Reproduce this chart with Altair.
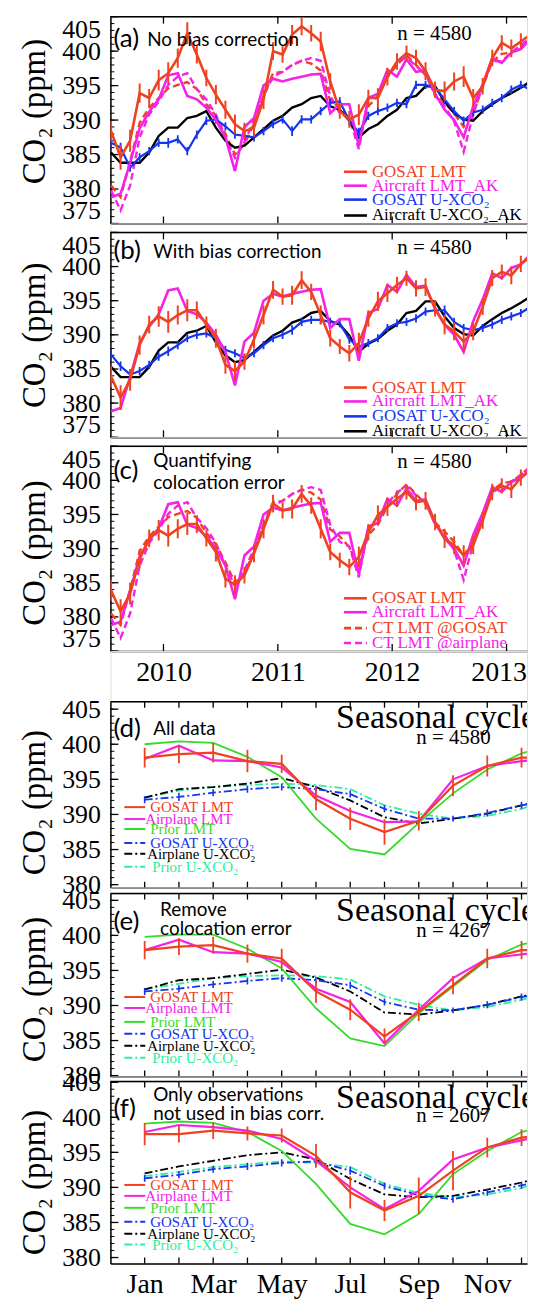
import altair as alt
import pandas as pd

# ---------------- monthly time series, Jul 2009 - Apr 2013 ----------------
month_starts = pd.date_range("2009-07-01", periods=46, freq="MS")
t_years = list(month_starts.year + (month_starts.month - 0.5) / 12.0)

gosat_lmt_nobc = [388.4, 384.6, 387.0, 393.9, 393.2, 395.8, 396.8, 399.0, 402.6, 399.5,
                  396.1, 393.7, 391.5, 389.4, 388.4, 388.9, 393.0, 400.0, 399.5, 402.4,
                  403.6, 402.6, 401.4, 395.6, 391.3, 390.1, 390.8, 393.2, 393.2, 396.3,
                  398.5, 399.7, 399.0, 397.1, 394.4, 394.2, 395.6, 396.3, 393.2, 394.9,
                  399.0, 401.2, 400.4, 401.4, 402.4, 403.0]
gosat_lmt_bc = [383.9, 380.8, 383.4, 388.5, 391.5, 392.7, 391.9, 392.9, 393.6, 393.6,
                391.5, 389.5, 385.6, 384.7, 386.1, 389.3, 392.9, 396.6, 395.6, 395.8,
                398.0, 396.3, 392.9, 389.5, 388.3, 387.3, 388.8, 392.4, 394.9, 396.1,
                397.3, 398.3, 396.8, 397.0, 393.9, 391.5, 390.5, 389.0, 390.5, 394.1,
                398.3, 399.2, 398.7, 400.4, 401.4, 402.0]
gosat_lmt_err = [1.5, 1.8, 1.6, 1.4, 1.3, 1.5, 1.6, 1.4, 1.6, 1.3, 1.2, 1.4, 1.3, 1.4, 1.2,
                 1.3, 1.4, 1.3, 1.2, 1.4, 1.3, 1.2, 1.4, 1.2, 1.1, 1.2, 1.5, 1.2, 1.4, 1.3,
                 1.2, 1.1, 1.2, 1.3, 1.2, 1.4, 1.3, 1.5, 1.3, 1.2, 1.2, 1.1, 1.3, 1.2, 1.2, 1.2]
aircraft_lmt_ak = [378.8, 379.3, 383.8, 388.8, 391.2, 393.0, 396.5, 396.8, 393.5, 393.0,
                   391.8, 390.0, 387.5, 382.6, 389.0, 390.3, 395.0, 396.0, 395.6, 396.0,
                   396.3, 396.6, 396.7, 391.0, 392.3, 392.3, 386.2, 393.2, 393.8, 397.3,
                   396.3, 398.8, 397.0, 397.2, 393.8, 391.5, 390.0, 387.5, 392.0, 395.2,
                   399.0, 398.3, 399.8, 400.3, 401.8, 403.0]
gosat_uxco2_nobc = [386.7, 386.0, 383.1, 384.6, 385.5, 386.7, 386.7, 387.2, 385.5, 387.9,
                    389.9, 390.1, 389.1, 387.9, 387.7, 387.5, 388.4, 389.4, 390.1, 388.4,
                    390.1, 390.1, 391.3, 392.5, 392.7, 389.9, 388.2, 390.6, 391.3, 391.8,
                    392.5, 392.3, 395.1, 395.1, 394.7, 393.0, 391.3, 389.9, 391.1, 391.5,
                    392.5, 393.2, 394.4, 395.1, 394.4, 395.0]
gosat_uxco2_bc = [387.1, 385.4, 384.2, 384.7, 385.6, 386.8, 387.6, 388.5, 389.5, 390.0,
                  390.2, 389.5, 387.8, 387.3, 386.6, 387.3, 388.5, 389.5, 390.0, 390.7,
                  391.9, 392.2, 392.2, 391.9, 391.7, 389.3, 388.3, 388.8, 389.5, 391.0,
                  391.7, 391.9, 392.4, 393.4, 393.6, 393.6, 391.9, 391.0, 390.7, 391.0,
                  391.5, 392.2, 392.7, 393.2, 394.1, 394.8]
gosat_uxco2_err = [0.7, 0.7, 0.6, 0.6, 0.6, 0.6, 0.7, 0.6, 0.6, 0.6, 0.6, 0.6, 0.6, 0.6, 0.6,
                   0.6, 0.6, 0.6, 0.6, 0.7, 0.6, 0.6, 0.6, 0.6, 0.6, 0.6, 0.7, 0.6, 0.6, 0.6,
                   0.6, 0.6, 0.6, 0.6, 0.6, 0.7, 0.6, 0.6, 0.6, 0.6, 0.6, 0.6, 0.6, 0.6, 0.6, 0.6]
aircraft_uxco2_ak = [385.3, 383.8, 383.8, 383.8, 385.3, 387.7, 388.9, 388.9, 390.3, 390.6,
                     391.3, 388.9, 387.0, 386.0, 386.3, 387.5, 388.7, 389.9, 390.6, 391.8,
                     392.3, 393.2, 393.5, 392.0, 391.5, 389.9, 387.5, 388.7, 389.4, 390.6,
                     391.5, 393.2, 393.5, 394.9, 394.9, 392.7, 391.0, 390.1, 389.9, 391.3,
                     392.3, 393.2, 393.9, 394.7, 395.6, 396.3]
ct_lmt_gosat = [380.5, 378.8, 384.0, 389.6, 391.8, 393.2, 394.6, 395.1, 395.5, 394.5,
                392.3, 390.6, 388.0, 385.0, 386.5, 389.5, 393.5, 396.8, 397.0, 398.0,
                398.6, 398.2, 397.2, 392.8, 391.8, 390.2, 387.2, 392.0, 393.5, 396.2,
                398.0, 399.4, 398.0, 396.5, 393.8, 392.5, 391.0, 389.0, 391.0, 394.8,
                398.5, 399.6, 399.8, 400.8, 402.0, 403.0]
ct_lmt_airplane = [379.8, 376.9, 380.5, 387.5, 390.8, 392.7, 395.1, 396.3, 396.8, 394.5,
                   393.0, 390.8, 387.5, 384.5, 386.8, 390.0, 393.5, 396.3, 397.0, 398.0,
                   398.6, 399.0, 398.6, 393.5, 391.0, 390.3, 385.8, 393.2, 393.8, 396.6,
                   398.2, 399.2, 397.8, 396.8, 393.5, 392.0, 389.8, 385.4, 390.8, 395.0,
                   398.6, 398.5, 399.8, 400.8, 402.0, 403.0]

year_ticks = [2010, 2011, 2012, 2013]

# ---------------- seasonal cycles (Jan..Dec, Jan) ----------------
season_month = list(range(1, 14))
season_tick_labels = ["Jan", "", "Mar", "", "May", "", "Jul", "", "Sep", "", "Nov", ""]

d_gosat_lmt = [398.1, 398.6, 398.8, 397.6, 397.2, 392.2, 389.4, 387.5, 389.1, 394.1, 396.9, 398.1, 398.1]
d_gosat_lmt_err = [1.4, 1.3, 1.4, 1.6, 1.3, 1.6, 1.6, 1.8, 1.4, 1.5, 1.5, 1.4, 1.4]
d_airplane_lmt = [397.9, 399.8, 397.7, 397.6, 396.7, 392.7, 390.5, 388.9, 389.0, 395.0, 396.9, 397.6, 397.9]
d_prior_lmt = [400.0, 400.4, 400.2, 398.2, 395.3, 389.4, 385.1, 384.3, 388.8, 393.0, 396.4, 398.7, 400.0]
d_gosat_u = [392.1, 392.5, 393.1, 393.6, 393.9, 393.6, 392.9, 390.8, 389.4, 389.4, 390.2, 391.3, 392.1]
d_gosat_u_err = [0.5, 0.6, 0.5, 0.5, 0.5, 0.5, 0.5, 0.5, 0.5, 0.4, 0.5, 0.5, 0.5]
d_airplane_u = [392.4, 393.6, 393.9, 394.4, 395.2, 393.9, 392.0, 389.6, 388.7, 389.4, 390.1, 391.3, 392.4]
d_prior_u = [392.4, 393.4, 393.9, 394.2, 394.4, 394.2, 393.6, 391.3, 390.1, 389.4, 389.8, 390.8, 392.4]

e_gosat_lmt = [397.9, 398.4, 398.6, 397.4, 396.7, 392.0, 389.4, 385.6, 389.1, 392.9, 396.7, 397.9, 397.9]
e_gosat_lmt_err = [1.3, 1.2, 1.2, 1.3, 1.4, 1.6, 1.5, 1.1, 1.3, 1.3, 1.4, 1.3, 1.3]
e_airplane_lmt = [397.9, 399.4, 397.6, 397.4, 396.2, 392.4, 390.5, 384.6, 389.4, 393.9, 396.7, 397.3, 397.9]
e_prior_lmt = [399.8, 400.1, 400.1, 398.1, 395.3, 389.6, 385.3, 384.2, 388.9, 392.7, 396.5, 398.7, 399.8]
e_gosat_u = [392.0, 392.4, 393.0, 393.5, 393.9, 393.6, 392.9, 390.5, 389.4, 389.3, 390.1, 391.2, 392.0]
e_gosat_u_err = [0.5, 0.5, 0.5, 0.5, 0.5, 0.5, 0.5, 0.5, 0.5, 0.4, 0.5, 0.5, 0.5]
e_airplane_u = [392.3, 393.6, 393.9, 394.5, 395.1, 394.0, 392.0, 389.0, 388.7, 389.3, 390.1, 391.3, 392.3]
e_prior_u = [392.3, 393.1, 393.9, 394.2, 394.3, 394.2, 393.7, 391.3, 390.1, 389.3, 389.8, 390.8, 392.3]

f_gosat_lmt = [397.6, 397.6, 398.1, 397.7, 397.4, 394.5, 389.3, 386.7, 388.8, 392.4, 395.7, 397.1, 397.6]
f_gosat_lmt_err = [1.6, 1.2, 1.2, 1.0, 1.0, 1.7, 2.3, 1.5, 2.6, 2.8, 1.4, 1.2, 1.6]
f_airplane_lmt = [397.9, 398.9, 398.6, 398.1, 396.9, 393.8, 390.0, 386.9, 389.5, 394.0, 395.7, 396.7, 397.9]
f_prior_lmt = [399.1, 399.4, 399.2, 397.9, 395.2, 390.5, 384.8, 383.3, 386.2, 391.9, 395.2, 397.9, 399.1]
f_gosat_u = [391.3, 391.8, 392.6, 393.0, 393.5, 393.7, 392.4, 390.2, 388.9, 388.3, 389.3, 390.3, 391.3]
f_gosat_u_err = [0.5, 0.5, 0.5, 0.5, 0.5, 0.5, 0.6, 0.5, 0.5, 0.5, 0.5, 0.5, 0.5]
f_airplane_u = [392.0, 393.0, 393.8, 394.6, 395.0, 394.0, 391.2, 389.0, 388.6, 388.8, 389.7, 390.7, 392.0]
f_prior_u = [391.6, 392.2, 392.9, 393.3, 393.7, 393.5, 392.9, 390.5, 389.2, 388.6, 389.0, 389.9, 391.6]

# ---------------- styling ----------------
SERIF = "Liberation Serif"
SANS = "Lato"
RED = "#EE4220"
MAG = "#F522E8"
BLUE = "#1535EE"
BLACK = "#000000"
GREEN = "#35DB2A"
SPRING = "#2BEFA0"
W = 419
DASH = [7, 4]
DASHDOT = [8, 3, 2, 3]
ONE = pd.DataFrame({"a": [0]})


def txt(text, x, y, size, font, color="black", align="left", baseline="middle", clip=False):
    return alt.Chart(pd.DataFrame({"t": [text]})).mark_text(
        font=font, fontSize=size, color=color, align=align, baseline=baseline, clip=clip
    ).encode(x=alt.value(x), y=alt.value(y), text="t:N")


def legend_entry(label, color, dash, lx0, lx1, tx, y, size, width):
    kw = {"strokeDash": dash} if dash else {}
    rule = alt.Chart(pd.DataFrame({"t": [label]})).mark_rule(
        color=color, strokeWidth=width, **kw
    ).encode(x=alt.value(lx0), x2=alt.value(lx1), y=alt.value(y))
    return [rule, txt(label, tx, y, size, SERIF, color=color, clip=True)]


def panel(H, xdom, ydom, xvals, ymajor, yminor, xlabels, xlabel_kw, title_y, flush,
          series, texts, legend, xtick=7):
    xs = alt.Scale(domain=xdom, nice=False, zero=False)
    ys = alt.Scale(domain=ydom, nice=False, zero=False)
    df0 = pd.DataFrame({"x": series[0]["x"], "v": series[0]["v"]})
    ax = alt.Chart(df0).mark_point(opacity=0, clip=True).encode(
        x=alt.X("x:Q", scale=xs, title=None, axis=alt.Axis(
            orient="bottom", values=xvals, ticks=False, domainColor="black",
            domainWidth=1.5, grid=False, labels=xlabels, labelFont=SERIF,
            labelColor="black", labelBaseline="alphabetic", labelOverlap=False,
            **xlabel_kw)),
        y=alt.Y("v:Q", scale=ys, title="CO₂ (ppm)", axis=alt.Axis(
            orient="left", values=ymajor, ticks=False, domainColor="black",
            domainWidth=1.5, grid=False, labelFont=SERIF, labelFontSize=26,
            labelColor="black", labelPadding=10, labelFlush=flush, labelOverlap=False,
            titleFont=SERIF, titleFontSize=33, titleFontWeight="normal", titleColor="black",
            titleAngle=270, titleX=-92, titleY=title_y, titleAlign="center",
            titleBaseline="top")),
    )
    layers = [ax]
    # frame top line and inward tick marks
    layers.append(alt.Chart(ONE).mark_rule(color="black", strokeWidth=1.5).encode(
        x=alt.value(0), x2=alt.value(W), y=alt.value(0)))
    dfx = pd.DataFrame({"t": xvals})
    for y0, y1 in [(0, xtick), (H - xtick, H)]:
        layers.append(alt.Chart(dfx).mark_rule(color="black", strokeWidth=1.3).encode(
            x=alt.X("t:Q", scale=xs, axis=None), y=alt.value(y0), y2=alt.value(y1)))
    for vals, ln, sw in [(ymajor, 8, 1.3), (yminor, 4, 1.0)]:
        layers.append(alt.Chart(pd.DataFrame({"t": vals})).mark_rule(
            color="black", strokeWidth=sw).encode(
            y=alt.Y("t:Q", scale=ys, axis=None), x=alt.value(0), x2=alt.value(ln)))
    for s in series:
        df = pd.DataFrame({"x": s["x"], "v": s["v"]})
        ex = alt.X("x:Q", scale=xs, axis=None)
        kw = {"strokeDash": s["dash"]} if s.get("dash") else {}
        layers.append(alt.Chart(df).mark_line(
            color=s["color"], strokeWidth=s["w"], clip=True, **kw
        ).encode(x=ex, y=alt.Y("v:Q", scale=ys, axis=None)))
        if s.get("err") is not None:
            dfe = df.assign(e=s["err"])
            layers.append(alt.Chart(dfe).transform_calculate(
                lo="datum.v - datum.e", hi="datum.v + datum.e"
            ).mark_rule(color=s["color"], strokeWidth=s.get("ew", 2), clip=True).encode(
                x=ex, y=alt.Y("lo:Q", scale=ys, axis=None), y2="hi:Q"))
    for t in texts:
        layers.append(txt(**t))
    for lg in legend:
        layers.extend(legend_entry(**lg))
    return alt.layer(*layers).properties(width=W, height=H).resolve_axis(
        x="independent", y="independent")


def spacer(h):
    return alt.Chart(ONE).mark_point(opacity=0, clip=True).encode(
        x=alt.value(0), y=alt.value(0)).properties(width=W, height=h)


TS_X = [2009.536, 2013.179]
TS_Y = [375, 405]
ts_major = [375, 380, 385, 390, 395, 400, 405]
ts_minor = list(range(375, 406))
SE_X = [0.0, 12.16]
se_major = [380, 385, 390, 395, 400, 405]
se_minor = list(range(380, 406))
season_expr = "[" + ",".join(f"'{m}'" for m in season_tick_labels) + "][datum.value - 1]"


def ts_legend(rows, ys_):
    out = []
    for (label, color, dash), y in zip(rows, ys_):
        out.append(dict(label=label, color=color, dash=dash, lx0=235, lx1=258, tx=263, y=y,
                        size=17, width=2.6))
    return out


def se_legend(ys_):
    rows = [("GOSAT LMT", RED, None, 40), ("Airplane LMT", MAG, None, 35),
            ("Prior LMT", GREEN, None, 40), ("GOSAT U-XCO₂", BLUE, DASHDOT, 40),
            ("Airplane U-XCO₂", BLACK, DASHDOT, 37), ("Prior U-XCO₂", SPRING, DASHDOT, 42)]
    return [dict(label=l, color=c, dash=d, lx0=14, lx1=35, tx=tx, y=y, size=15, width=2)
            for (l, c, d, tx), y in zip(rows, ys_)]


def ser(x, v, color, w, dash=None, err=None, ew=2):
    return dict(x=x, v=v, color=color, w=w, dash=dash, err=err, ew=ew)


rows_ab = [("GOSAT LMT", RED, None), ("Aircraft LMT_AK", MAG, None),
           ("GOSAT U-XCO₂", BLUE, None), ("Aircraft U-XCO₂_AK", BLACK, None)]
rows_c = [("GOSAT LMT", RED, None), ("Aircraft LMT_AK", MAG, None),
          ("CT LMT @GOSAT", RED, DASH), ("CT LMT @airplane", MAG, DASH)]

pa = panel(208, TS_X, TS_Y, year_ticks, ts_major, ts_minor, False, {}, 95, True,
           [ser(t_years, ct_lmt_gosat, RED, 2.4, DASH),
            ser(t_years, ct_lmt_airplane, MAG, 2.4, DASH),
            ser(t_years, aircraft_uxco2_ak, BLACK, 2.4),
            ser(t_years, gosat_uxco2_nobc, BLUE, 2.2, None, gosat_uxco2_err, 1.8),
            ser(t_years, aircraft_lmt_ak, MAG, 2.6),
            ser(t_years, gosat_lmt_nobc, RED, 2.6, None, gosat_lmt_err, 2)],
           [dict(text="(a)", x=3, y=23, size=26, font=SANS),
            dict(text="No bias correction", x=37, y=23, size=19, font=SANS),
            dict(text="n = 4580", x=326, y=17, size=21, font=SERIF, align="center")],
           ts_legend(rows_ab, [156, 170, 184, 200]))

pb = panel(206, TS_X, TS_Y, year_ticks, ts_major, ts_minor, False, {}, 103, True,
           [ser(t_years, aircraft_uxco2_ak, BLACK, 2.4),
            ser(t_years, gosat_uxco2_bc, BLUE, 2.2, None, gosat_uxco2_err, 1.8),
            ser(t_years, aircraft_lmt_ak, MAG, 2.6),
            ser(t_years, gosat_lmt_bc, RED, 2.6, None, gosat_lmt_err, 2)],
           [dict(text="(b)", x=3, y=19, size=26, font=SANS),
            dict(text="With bias correction", x=43, y=20, size=19, font=SANS),
            dict(text="n = 4580", x=326, y=16, size=21, font=SERIF, align="center")],
           ts_legend(rows_ab, [156, 170, 185, 200]))

pc = panel(206, TS_X, TS_Y, year_ticks, ts_major, ts_minor, True,
           {"format": "d", "labelFontSize": 28, "labelPadding": 30,
            "labelFlush": 25, "labelFlushOffset": 20}, 107, True,
           [ser(t_years, ct_lmt_gosat, RED, 2.4, DASH),
            ser(t_years, ct_lmt_airplane, MAG, 2.4, DASH),
            ser(t_years, aircraft_lmt_ak, MAG, 2.6),
            ser(t_years, gosat_lmt_bc, RED, 2.6, None, gosat_lmt_err, 2)],
           [dict(text="(c)", x=3, y=25, size=26, font=SANS),
            dict(text="Quantifying", x=43, y=15, size=19, font=SANS),
            dict(text="colocation error", x=43, y=37, size=19, font=SANS),
            dict(text="n = 4580", x=326, y=16, size=21, font=SERIF, align="center")],
           ts_legend(rows_c, [153, 167, 183, 198]))


def season_panel(H, ydom, title_y, show_labels, vals, texts, legend_ys):
    gl, gle, al, pl, gu, gue, au, pu = vals
    m = season_month
    return panel(H, SE_X, ydom, list(range(1, 13)), se_major, se_minor, show_labels,
                 {"labelExpr": season_expr, "labelFontSize": 28, "labelPadding": 29,
                  "labelFlush": False},
                 title_y, False,
                 [ser(m, pu, SPRING, 1.8, DASHDOT),
                  ser(m, au, BLACK, 1.8, DASHDOT),
                  ser(m, gu, BLUE, 1.8, DASHDOT, gue, 1.6),
                  ser(m, pl, GREEN, 1.8),
                  ser(m, al, MAG, 2.2),
                  ser(m, gl, RED, 2.2, None, gle, 1.8)],
                 texts, se_legend(legend_ys), xtick=6)


pdd = season_panel(187, [379.57, 406.06], 101, False,
                   [d_gosat_lmt, d_gosat_lmt_err, d_airplane_lmt, d_prior_lmt,
                    d_gosat_u, d_gosat_u_err, d_airplane_u, d_prior_u],
                   [dict(text="(d)", x=3, y=27, size=26, font=SANS),
                    dict(text="All data", x=43, y=27, size=19, font=SANS),
                    dict(text="Seasonal cycle", x=227, y=16, size=34, font=SERIF, clip=True),
                    dict(text="n = 4580", x=345, y=37, size=21, font=SERIF, align="center")],
                   [106, 118, 128, 142, 153, 166])

pe = season_panel(184, [379.86, 405.96], 96, False,
                  [e_gosat_lmt, e_gosat_lmt_err, e_airplane_lmt, e_prior_lmt,
                   e_gosat_u, e_gosat_u_err, e_airplane_u, e_prior_u],
                  [dict(text="(e)", x=3, y=29, size=26, font=SANS),
                   dict(text="Remove", x=50, y=17, size=19, font=SANS),
                   dict(text="colocation error", x=50, y=36, size=19, font=SANS),
                   dict(text="Seasonal cycle", x=227, y=18, size=34, font=SERIF, clip=True),
                   dict(text="n = 4267", x=345, y=38, size=21, font=SERIF, align="center")],
                  [104, 115, 129, 141, 153, 165])

pf = season_panel(183, [379.15, 405.1], 101, True,
                  [f_gosat_lmt, f_gosat_lmt_err, f_airplane_lmt, f_prior_lmt,
                   f_gosat_u, f_gosat_u_err, f_airplane_u, f_prior_u],
                  [dict(text="(f)", x=3, y=28, size=26, font=SANS),
                   dict(text="Only observations", x=43, y=14, size=19, font=SANS),
                   dict(text="not used in bias corr.", x=43, y=33, size=19, font=SANS),
                   dict(text="Seasonal cycle", x=227, y=17, size=34, font=SERIF, clip=True),
                   dict(text="n = 2607", x=345, y=35, size=21, font=SERIF, align="center")],
                  [104, 115, 127, 141, 153, 164])

chart = alt.vconcat(
    pa, spacer(9), pb, spacer(9), pc, spacer(51), pdd, spacer(6), pe, spacer(5), pf,
    spacing=0, bounds="flush"
).properties(
    padding={"left": 10, "top": 3, "right": 0, "bottom": -4}
).configure_view(stroke=None).configure(background="white")

chart.save("out.html", embed_options={"renderer": "svg", "actions": False})
